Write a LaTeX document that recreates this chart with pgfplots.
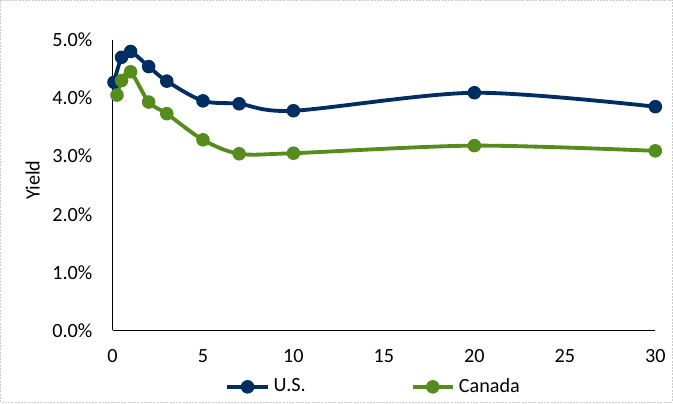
\documentclass[border=0pt]{standalone}
\usepackage{fontspec}
\setmainfont{Carlito}
\usepackage{pgfplots}
\pgfplotsset{compat=1.18}

\definecolor{usblue}{HTML}{002D62}
\definecolor{cagreen}{HTML}{568C1C}

\begin{document}
\begin{tikzpicture}
    \begin{axis}[
        name=ax,
        at={(0,0)}, anchor=south west,
        scale only axis,
        width=269pt,
        height=144pt,
        xmin=0, xmax=30,
        ymin=0, ymax=5,
        xtick={0,5,...,30},
        ytick={0,1,...,5},
        axis lines*=left,
        axis line style={line width=0.6pt, black},
        major tick length=0pt,
        xticklabel shift=6pt,
        yticklabel shift=6.5pt,
        yticklabel={\pgfmathprintnumber[fixed,fixed zerofill,precision=1]{\tick}\%},
        /pgf/number format/assume math mode=true,
        ylabel={Yield},
        ylabel style={at={(axis description cs:-0.147,0.517)}, anchor=center},
        clip=false,
        legend columns=2,
        legend style={
            draw=none,
            at={(axis description cs:0.483,-0.194)},
            anchor=center,
            /tikz/every even column/.append style={column sep=50pt},
        },
        legend image code/.code={
            \draw[mark repeat=2,mark phase=2,#1]
                plot coordinates {(0pt,0pt) (10pt,0pt) (20pt,0pt)};
        },
    ]
        \addplot[
            color=usblue,
            line width=1.9pt,
            mark=*,
            mark size=3.1pt,
            mark options={line width=0.5pt},
            smooth,
            tension=0.5,
        ]
        coordinates {
            (0.083, 4.27)
            (0.5, 4.70)
            (1, 4.80)
            (2, 4.54)
            (3, 4.29)
            (5, 3.95)
            (7, 3.90)
            (10, 3.78)
            (20, 4.09)
            (30, 3.85)
        };
        \addlegendentry{U.S.}
        \addplot[
            color=cagreen,
            line width=1.9pt,
            mark=*,
            mark size=3.1pt,
            mark options={line width=0.5pt},
            smooth,
            tension=0.5,
        ]
        coordinates {
            (0.25, 4.05)
            (0.5, 4.30)
            (1, 4.45)
            (2, 3.93)
            (3, 3.73)
            (5, 3.28)
            (7, 3.04)
            (10, 3.05)
            (20, 3.18)
            (30, 3.09)
        };
        \addlegendentry{Canada}
    \end{axis}
    \draw[gray!40, line width=0.5pt, dash pattern=on 1pt off 0.6pt]
        ([shift={(-55.5pt,-35.5pt)}]ax.south west) rectangle ([shift={(277.5pt,163.5pt)}]ax.south west);
\end{tikzpicture}
\end{document}
